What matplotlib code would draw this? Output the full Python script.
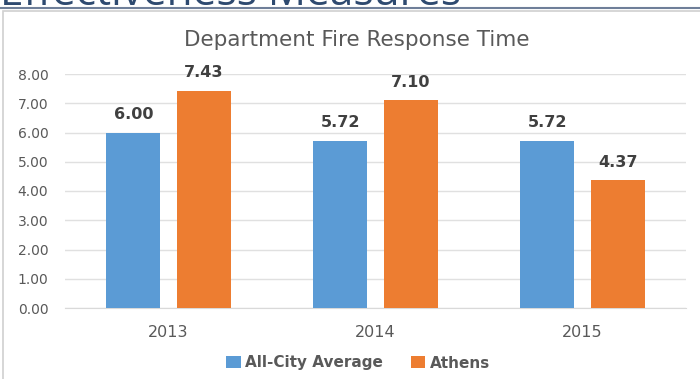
import matplotlib
matplotlib.use("Agg")
import matplotlib.pyplot as plt
from matplotlib.patches import Rectangle
import numpy as np

years = ["2013", "2014", "2015"]
all_city = [6.00, 5.72, 5.72]
athens = [7.43, 7.10, 4.37]
series_names = ["All-City Average", "Athens"]
yticks = [0, 1, 2, 3, 4, 5, 6, 7, 8]

plt.rcParams['font.family'] = ['DejaVu Sans']

fig = plt.figure(figsize=(7, 3.79), dpi=100)
fig.patch.set_facecolor('white')

# header remnants
fig.text(0.0, 1 - 5/379, "Effectiveness Measures", fontsize=30.5, color='#2E4A70',
         ha='left', va='baseline', family=['Open Sans', 'DejaVu Sans'])
fig.add_artist(plt.Line2D([0, 1], [1 - 8/379, 1 - 8/379], color='#6F7F99', lw=1.5))
fig.add_artist(Rectangle((3/700, -0.01), 1.0, 1 - 11/379 + 0.01, transform=fig.transFigure,
                         fill=False, edgecolor='#D0D0D0', lw=1.2))

ax = fig.add_axes([65/700, 1 - 308/379, 621/700, 234/379])
x = np.arange(len(years))
w = 0.26
off = 0.17
b1 = ax.bar(x - off, all_city, w, color='#5B9BD5', label=series_names[0], zorder=3)
b2 = ax.bar(x + off, athens, w, color='#ED7D31', label=series_names[1], zorder=3)

for bars, vals in ((b1, all_city), (b2, athens)):
    for r, v in zip(bars, vals):
        ax.text(r.get_x() + r.get_width()/2, v + 0.36, f"{v:.2f}", ha='center', va='bottom',
                fontsize=11.5, fontweight='bold', color='#404040')

ax.set_xlim(-0.5, 2.5)
ax.set_ylim(0, 8)
ax.set_yticks(yticks)
ax.set_yticklabels([f"{t:.2f}" for t in yticks])
ax.set_xticks(x)
ax.set_xticklabels(years)
ax.grid(axis='y', color='#E0E0E0', lw=1, zorder=0)
for s in ax.spines.values():
    s.set_visible(False)
ax.spines['bottom'].set_visible(True)
ax.spines['bottom'].set_color('#D9D9D9')
ax.tick_params(axis='both', length=0, colors='#595959')
ax.tick_params(axis='y', pad=12, labelsize=10)
ax.tick_params(axis='x', pad=12, labelsize=11.5)

fig.text(357/700, 1 - 40/379, "Department Fire Response Time", ha='center', va='center',
         fontsize=15.5, color='#595959')

leg = fig.legend(handles=[b1, b2], labels=series_names, loc='center', bbox_to_anchor=(358/700, 1 - 363/379),
                 ncol=2, frameon=False, handlelength=0.95, handleheight=0.8, handletextpad=0.3,
                 columnspacing=1.8, prop={'size': 11, 'weight': 'bold'})
for t in leg.get_texts():
    t.set_color('#595959')

fig.savefig("out.png", dpi=100)
